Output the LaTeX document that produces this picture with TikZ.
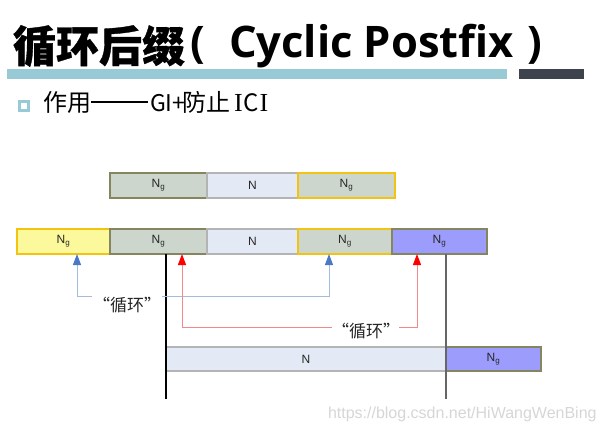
\documentclass[tikz,border=0pt]{standalone}
\usepackage{fontspec}
\setmainfont{Liberation Sans}
\newfontfamily\cjk{Noto Sans CJK SC}
\newfontfamily\cjkb{Noto Sans CJK SC}[BoldFeatures={FakeBold=0.8}]
\newfontfamily\osans{Open Sans}
\newfontfamily\lserif{Liberation Serif}
\usetikzlibrary{arrows.meta}
\definecolor{ngfill}{HTML}{CDD6CD}
\definecolor{olive}{HTML}{85855F}
\definecolor{gold}{HTML}{F2C40F}
\definecolor{yfill}{HTML}{FBF99C}
\definecolor{pfill}{HTML}{9C9CFC}
\definecolor{nfill}{HTML}{E4EAF5}
\definecolor{ngray}{HTML}{B4B4B4}
\definecolor{teal}{HTML}{97CAD4}
\definecolor{darkbar}{HTML}{3D424C}
\definecolor{headblue}{HTML}{4A78C4}
\definecolor{lineblue}{HTML}{A3BCDB}
\definecolor{linered}{HTML}{F08A8A}
\definecolor{wm}{HTML}{D6D6D6}
\begin{document}
\begin{tikzpicture}[x=1pt,y=-1pt,
  box/.style={rectangle, inner sep=0, outer sep=0, anchor=north west, minimum height=25, text=black!85, font=\fontsize{12}{12}\selectfont},
  ngb/.style={box, fill=ngfill, draw=olive, line width=2},
  ngy/.style={box, fill=ngfill, draw=gold, line width=2},
  yb/.style={box, fill=yfill, draw=gold, line width=2},
  pb/.style={box, fill=pfill, draw=olive, line width=2},
  nb/.style={box, fill=nfill, draw=ngray, line width=1.2},
  txt/.style={inner sep=0, outer sep=0, anchor=base west},
  bline/.style={draw=lineblue, line width=1, -{Triangle[length=11pt,width=8pt,color=headblue]}},
  rline/.style={draw=linered, line width=1, -{Triangle[length=11pt,width=8pt,color=red]}},
  lab/.style={inner sep=0, font=\cjk\fontsize{17}{17}\selectfont, text=black!85}
]
\useasboundingbox (0,0) rectangle (604,426);
% title
\node[txt, font=\cjkb\bfseries\fontsize{43}{43}\selectfont] (t1) at (13,62) {循环后缀};
\node[txt, font=\osans\bfseries\fontsize{43.5}{43.5}\selectfont] (t2) at (190,57) {(};
\node[txt, font=\osans\bfseries\fontsize{43.5}{43.5}\selectfont] (t3) at (229,57) {Cyclic Postfix};
\node[txt, font=\osans\bfseries\fontsize{43.5}{43.5}\selectfont] (t4) at (527,57) {)};
\fill[teal] (7,69) rectangle (507,79);
\fill[darkbar] (519,69) rectangle (584,79);
% bullet
\node[draw=teal, line width=3, inner sep=0, minimum size=9, anchor=north west] (bul) at (17.5,99.5) {};
\node[txt, font=\cjk\fontsize{24}{24}\selectfont] (s1) at (43,111) {作用\rule[8.5pt]{57pt}{1.3pt}};
\node[txt, font=\cjk\fontsize{23}{23}\selectfont] (s2) at (150,111) {GI+};
\node[txt, font=\cjk\fontsize{24}{24}\selectfont] (s3) at (182,111) {防止};
\node[txt, font=\cjk\fontsize{24}{24}\selectfont] (s4) at (234,111) {{\lserif\fontsize{26}{26}\selectfont I}\kern0.8pt C\kern0.8pt{\lserif\fontsize{26}{26}\selectfont I}};
% row 1
\node[ngb, minimum width=97] (a1) at (110,173) {N\textsubscript{g}};
\node[nb, minimum width=91] (a2) at (207,173) {N};
\node[ngy, minimum width=97] (a3) at (298,173) {N\textsubscript{g}};
% row 2
\node[yb, minimum width=93] (yl) at (17,229) {N\textsubscript{g}};
\node[ngb, minimum width=97] (g2) at (110,229) {N\textsubscript{g}};
\node[nb, minimum width=91] (n2) at (207,229) {N};
\node[ngy, minimum width=94] (gy2) at (298,229) {N\textsubscript{g}};
\node[pb, minimum width=95] (pr) at (392,229) {N\textsubscript{g}};
% row 3
\node[nb, minimum width=280, minimum height=24] (bn) at (166,347) {N};
\node[pb, minimum width=95, minimum height=24] (bp) at (446,347) {N\textsubscript{g}};
% vertical lines
\coordinate (endl) at (0,399);
\draw[black, line width=1.2] (g2.south -| bn.west) -- (bn.west |- endl);
\draw[black!60, line width=1.2] (pr.south -| bn.east) -- (bn.east |- endl);
% labels
\node[lab] (lab1) at (127,305) {“循环”};
\node[lab] (lab2) at (366,331) {“循环”};
% blue connectors
\coordinate (bL) at (92,296);
\coordinate (bA) at (77,296);
\coordinate (bR) at (162,296);
\coordinate (bB) at (329,296);
\draw[bline] (bL) -- (bA) -- (yl.south -| bA);
\draw[bline] (bR) -- (bB) -- (gy2.south -| bB);
% red connectors
\coordinate (rL) at (332,327);
\coordinate (rA) at (182,327);
\coordinate (rR) at (399,327);
\coordinate (rB) at (417,327);
\draw[rline] (rL) -- (rA) -- (g2.south -| rA);
\draw[rline] (rR) -- (rB) -- (pr.south -| rB);
% watermark
\node[txt, font=\fontsize{16}{16}\selectfont, text=wm] (wmk) at (328,418) {https://blog.csdn.net/HiWangWenBing};
\end{tikzpicture}
\end{document}
